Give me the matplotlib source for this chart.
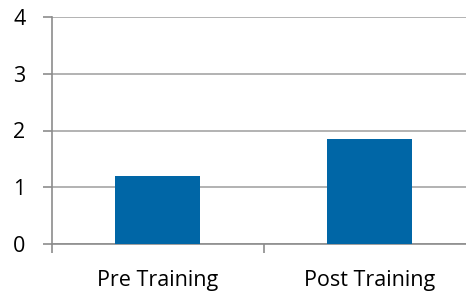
import numpy as np
import matplotlib.pyplot as plt

# data
categories = ['Pre Training', 'Post Training']
values = [1.19, 1.85]
yticks = [0, 1, 2, 3, 4]

bar_color = '#0066a6'
grid_color = '#a6a6a6'
axis_color = '#8c8c8c'

plt.rcParams['font.family'] = ['Open Sans', 'DejaVu Sans']

fig = plt.figure(figsize=(4.66, 2.92), dpi=100)
# axes runs slightly off the right edge, as in the original
ax = fig.add_axes([52/466, 48/292, (475-52)/466, (244-17)/292])

x = np.arange(len(categories))
ax.bar(x, values, width=0.4, color=bar_color, zorder=3)

ax.set_xlim(-0.5, len(categories) - 0.5)
ax.set_ylim(0, 4)
ax.set_yticks(yticks)
ax.yaxis.grid(True, color=grid_color, linewidth=1.2, zorder=0)

for side in ['top', 'right']:
    ax.spines[side].set_visible(False)
for side in ['left', 'bottom']:
    ax.spines[side].set_color(axis_color)
    ax.spines[side].set_linewidth(1.2)

ax.set_xticks(x)
ax.set_xticklabels(categories)
ax.set_xticks(np.arange(-0.5, len(categories)), minor=True)
ax.tick_params(axis='x', which='major', length=0, pad=18.5, labelsize=15.5)
ax.tick_params(axis='x', which='minor', length=6.5, width=1.2, color=axis_color)
ax.tick_params(axis='y', length=6.5, width=1.2, color=axis_color, pad=12.5, labelsize=15.5)

fig.savefig('out.png', dpi=100)
